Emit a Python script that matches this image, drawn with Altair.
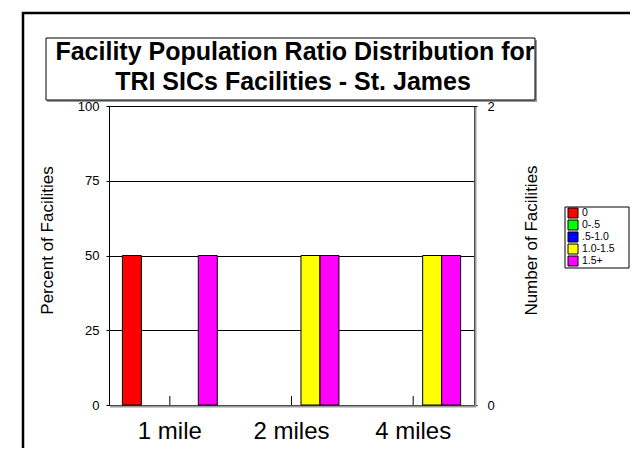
import altair as alt
import pandas as pd

distances = ["1 mile", "2 miles", "4 miles"]
ratios = ["0", "0-.5", ".5-1.0", "1.0-1.5", "1.5+"]
colors = ["#ff0000", "#00ff00", "#0000ff", "#ffff00", "#ff00ff"]
counts_1mile = [1, 0, 0, 0, 1]
counts_2miles = [0, 0, 0, 1, 1]
counts_4miles = [0, 0, 0, 1, 1]
title_lines = ["Facility Population Ratio Distribution for", "TRI SICs Facilities - St. James"]

FONT = "Liberation Sans, Arial, sans-serif"

rows = []
for d, cs in zip(distances, [counts_1mile, counts_2miles, counts_4miles]):
    tot = sum(cs)
    for r, c in zip(ratios, cs):
        if c > 0:
            rows.append({"dist": d, "ratio": r, "count": c, "pct": c / tot * 100})
df = pd.DataFrame(rows)
one = pd.DataFrame({"k": [0]})
dist_df = pd.DataFrame({"dist": distances})
leg_df = pd.DataFrame({"ratio": ratios})

W, H = 365, 299

color_scale = alt.Scale(domain=ratios, range=colors)

xenc = alt.X("dist:N", sort=distances,
             scale=alt.Scale(domain=distances, paddingInner=0.22, paddingOuter=0.11),
             axis=alt.Axis(title=None, labelFontSize=24, ticks=False, tickSize=0, domain=False,
                           labelPadding=33, labelBaseline="alphabetic", labelAngle=0,
                           labelColor="black", labelFont=FONT))

frame = alt.Chart(one).mark_rect(fill=None, stroke="black", strokeWidth=2.5).encode(
    x=alt.value(-86), x2=alt.value(540), y=alt.value(-93), y2=alt.value(360))

title_shadow = alt.Chart(one).mark_rect(fill="#999999").encode(
    x=alt.value(-62), x2=alt.value(428), y=alt.value(-66), y2=alt.value(-4))
title_box = alt.Chart(one).mark_rect(fill="white", stroke="black", strokeWidth=1).encode(
    x=alt.value(-63), x2=alt.value(426), y=alt.value(-68), y2=alt.value(-6))
t1 = alt.Chart(one).mark_text(text=title_lines[0], fontSize=25, fontWeight="bold",
                              font=FONT, color="black", align="center", baseline="alphabetic").encode(
    x=alt.value(186), y=alt.value(-46))
t2 = alt.Chart(one).mark_text(text=title_lines[1], fontSize=25, fontWeight="bold",
                              font=FONT, color="black", align="center", baseline="alphabetic").encode(
    x=alt.value(184), y=alt.value(-16))

legend_box = alt.Chart(one).mark_rect(fill="white", stroke="black", strokeWidth=1).encode(
    x=alt.value(456), x2=alt.value(520), y=alt.value(101), y2=alt.value(162))

leg_y = alt.Y("ratio:N", sort=ratios,
              scale=alt.Scale(domain=ratios, range=[107, 155], padding=0), axis=None)
leg_sym = alt.Chart(leg_df).mark_square(size=100, stroke="black", strokeWidth=1, opacity=1).encode(
    x=alt.value(464), y=leg_y,
    fill=alt.Fill("ratio:N", scale=color_scale, legend=None))
leg_txt = alt.Chart(leg_df).mark_text(align="left", baseline="middle", fontSize=10.5,
                                      font=FONT, color="black").encode(
    x=alt.value(473), y=leg_y, text="ratio:N")

shadow_b = alt.Chart(one).mark_rule(color="#999999", strokeWidth=2).encode(
    x=alt.value(1), x2=alt.value(W + 2), y=alt.value(H + 1.5))
shadow_r = alt.Chart(one).mark_rule(color="#999999", strokeWidth=2).encode(
    x=alt.value(W + 1.5), y=alt.value(1), y2=alt.value(H + 2))

bars = alt.Chart(df).mark_bar(stroke="black", strokeWidth=1, opacity=1).encode(
    x=xenc,
    xOffset=alt.XOffset("ratio:N", sort=ratios, scale=alt.Scale(domain=ratios, paddingInner=0, paddingOuter=0)),
    y=alt.Y("pct:Q", scale=alt.Scale(domain=[0, 100], nice=False),
            axis=alt.Axis(title="Percent of Facilities", values=[0, 25, 50, 75, 100],
                          grid=True, gridColor="black", gridWidth=1, gridOpacity=1,
                          domain=False, tickSize=3, tickColor="black", labelPadding=7,
                          labelFontSize=13, labelColor="black", labelFont=FONT,
                          titleFontSize=17, titleFontWeight="normal", titleFont=FONT,
                          titleColor="black", titleAngle=270, titleX=-62, titleY=134,
                          titleAlign="center", titleBaseline="middle")),
    fill=alt.Fill("ratio:N", scale=color_scale, legend=None),
)

right = alt.Chart(df).mark_point(opacity=0).encode(
    x=alt.X("dist:N", sort=distances),
    y=alt.Y("count:Q", scale=alt.Scale(domain=[0, 2], nice=False),
            axis=alt.Axis(orient="right", title="Number of Facilities", values=[0, 1, 2],
                          format="d", grid=False, domain=False, tickSize=3, tickColor="black",
                          labelPadding=10, labelFontSize=13, labelColor="black", labelFont=FONT,
                          titleFontSize=17, titleFontWeight="normal", titleFont=FONT,
                          titleColor="black", titleAngle=270, titleX=57, titleY=134,
                          titleAlign="center", titleBaseline="middle")),
)

xticks = alt.Chart(dist_df).mark_rule(color="black", strokeWidth=1).encode(
    x=alt.X("dist:N", sort=distances), y=alt.value(H), y2=alt.value(H - 9))

chart = alt.layer(frame, title_shadow, title_box, t1, t2, legend_box, shadow_b, shadow_r,
                  bars, right, xticks, leg_sym, leg_txt).resolve_scale(
    y="independent"
).properties(
    width=W, height=H,
    autosize=alt.AutoSizeParams(type="none"),
    padding={"left": 101, "top": 98, "right": 156, "bottom": 43},
    background="white",
).configure_view(stroke="black", strokeWidth=1)

chart.save("out.html", embed_options={"renderer": "svg", "actions": False})
